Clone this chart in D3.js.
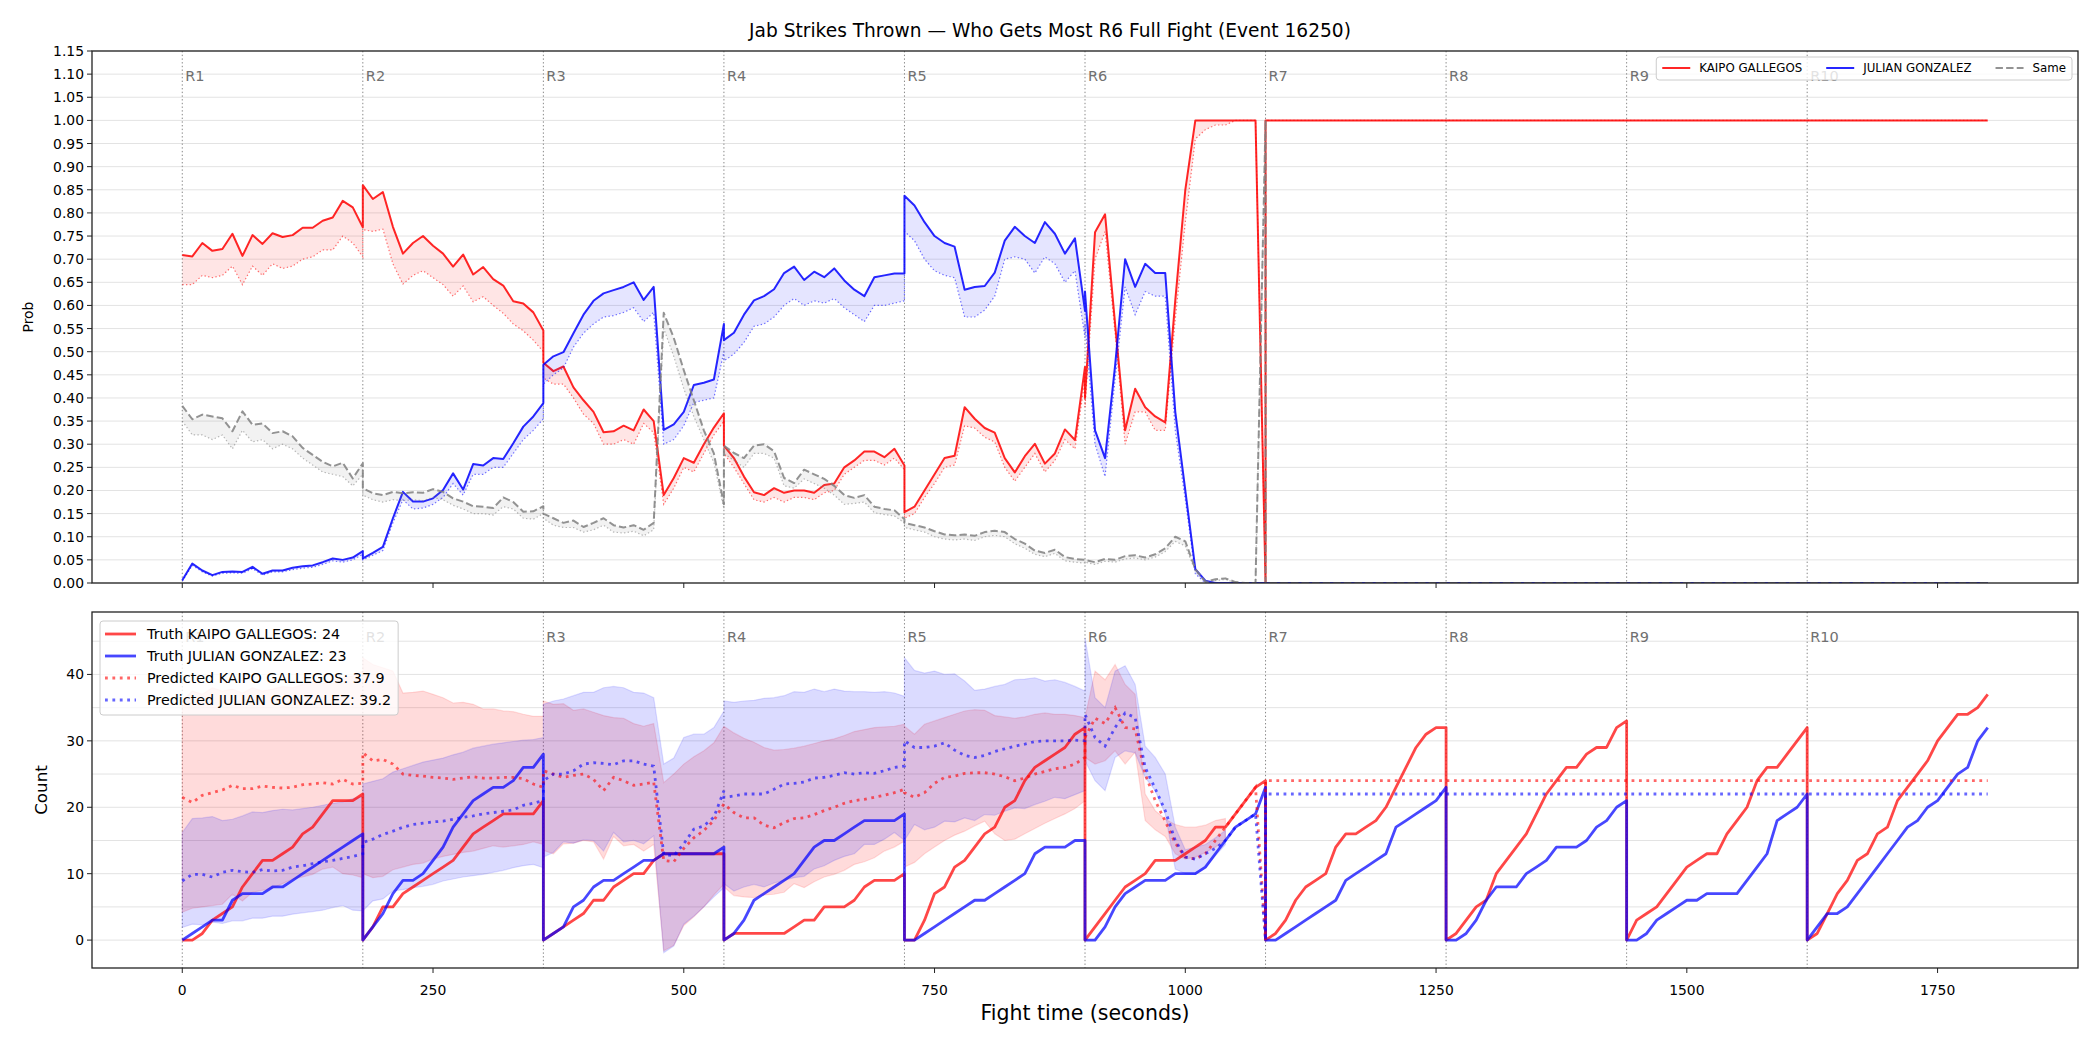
<!DOCTYPE html>
<html>
<head>
<meta charset="utf-8">
<script src="https://cdn.jsdelivr.net/npm/d3@7"></script>
<style>
  body { margin: 0; background: #fff; }
  text { font-family: "DejaVu Sans", sans-serif; }
</style>
</head>
<body>
<svg id="chart" width="2100" height="1050"></svg>
<script>
// ---- data (10 s samples, one row per round) ----
const STEP = 10, ROUND_LEN = 180;
const roundStarts = [0, 180, 360, 540, 720, 900, 1080, 1260, 1440, 1620];
const roundNames = ["R1", "R2", "R3", "R4", "R5", "R6", "R7", "R8", "R9", "R10"];
const xTicks = [0, 250, 500, 750, 1000, 1250, 1500, 1750];
const probTicks = d3.range(0, 24).map(i => i * 0.05);
const countTicks = [0, 10, 20, 30, 40];
const countGrid = [0, 5, 10, 15, 20, 25, 30, 35, 40, 45];
const tailT = [1080, 1800];

// top panel: win probability
const probRed = [
  [0.709,0.706,0.735,0.718,0.722,0.755,0.707,0.752,0.733,0.756,0.748,0.752,0.768,0.768,0.783,0.790,0.826,0.812,0.769],
  [0.860,0.830,0.845,0.770,0.712,0.735,0.750,0.729,0.712,0.684,0.710,0.667,0.683,0.657,0.643,0.609,0.604,0.585,0.546],
  [0.476,0.458,0.468,0.423,0.395,0.370,0.326,0.328,0.340,0.330,0.375,0.350,0.190,0.227,0.270,0.260,0.300,0.336,0.367],
  [0.297,0.270,0.230,0.196,0.190,0.205,0.195,0.200,0.200,0.195,0.212,0.215,0.250,0.265,0.284,0.284,0.272,0.290,0.254],
  [0.153,0.165,0.200,0.235,0.270,0.275,0.380,0.355,0.335,0.325,0.270,0.239,0.274,0.301,0.258,0.280,0.332,0.309,0.467],
  [0.400,0.758,0.797,0.560,0.330,0.420,0.380,0.360,0.347,0.611,0.850,1.000,1.000,1.000,1.000,1.000,1.000,1.000,0.000]
];
const probRedDot = [
  [0.645,0.645,0.665,0.660,0.665,0.685,0.645,0.685,0.665,0.690,0.680,0.685,0.700,0.705,0.720,0.720,0.750,0.735,0.705],
  [0.764,0.760,0.765,0.690,0.646,0.665,0.675,0.660,0.645,0.620,0.642,0.608,0.619,0.600,0.583,0.560,0.545,0.525,0.500],
  [0.443,0.430,0.430,0.400,0.365,0.345,0.300,0.300,0.310,0.300,0.345,0.325,0.170,0.205,0.250,0.240,0.280,0.320,0.350],
  [0.280,0.250,0.215,0.180,0.175,0.185,0.175,0.185,0.185,0.180,0.195,0.200,0.235,0.250,0.265,0.265,0.255,0.270,0.245],
  [0.140,0.150,0.185,0.215,0.250,0.255,0.340,0.335,0.315,0.305,0.250,0.220,0.250,0.280,0.240,0.265,0.310,0.290,0.440],
  [0.380,0.700,0.760,0.540,0.300,0.370,0.370,0.330,0.330,0.570,0.780,0.960,0.980,0.990,0.990,1.000,1.000,1.000,0.000]
];
const probBlue = [
  [0.006,0.042,0.027,0.017,0.024,0.025,0.024,0.035,0.020,0.027,0.027,0.033,0.036,0.038,0.045,0.053,0.050,0.055,0.069],
  [0.053,0.065,0.078,0.140,0.197,0.176,0.176,0.183,0.201,0.237,0.202,0.257,0.254,0.270,0.268,0.302,0.338,0.360,0.389],
  [0.472,0.490,0.499,0.540,0.580,0.610,0.626,0.633,0.640,0.650,0.612,0.640,0.331,0.343,0.370,0.428,0.433,0.440,0.560],
  [0.525,0.541,0.580,0.611,0.620,0.635,0.670,0.684,0.655,0.673,0.661,0.680,0.654,0.634,0.620,0.661,0.665,0.669,0.669],
  [0.837,0.816,0.780,0.750,0.735,0.727,0.634,0.640,0.642,0.671,0.740,0.770,0.750,0.735,0.780,0.755,0.712,0.745,0.588],
  [0.630,0.330,0.270,0.470,0.700,0.640,0.690,0.670,0.670,0.370,0.200,0.030,0.005,0,0,0,0,0,0]
];
const probBlueDot = [
  [0.004,0.038,0.024,0.015,0.021,0.022,0.021,0.031,0.017,0.024,0.024,0.029,0.032,0.034,0.040,0.048,0.045,0.050,0.062],
  [0.050,0.060,0.070,0.130,0.180,0.160,0.162,0.170,0.185,0.215,0.190,0.235,0.235,0.250,0.250,0.280,0.310,0.330,0.355],
  [0.430,0.450,0.465,0.510,0.540,0.560,0.575,0.578,0.585,0.595,0.565,0.585,0.300,0.310,0.340,0.390,0.395,0.400,0.500],
  [0.480,0.495,0.520,0.555,0.560,0.575,0.600,0.615,0.600,0.610,0.605,0.615,0.595,0.580,0.565,0.600,0.600,0.605,0.610],
  [0.760,0.740,0.700,0.675,0.665,0.660,0.575,0.575,0.590,0.620,0.700,0.705,0.700,0.670,0.705,0.690,0.650,0.675,0.530],
  [0.560,0.300,0.230,0.440,0.640,0.580,0.630,0.620,0.620,0.330,0.180,0.020,0,0,0,0,0,0,0]
];
const probSame = [
  [0.383,0.354,0.364,0.360,0.356,0.328,0.371,0.342,0.345,0.324,0.328,0.317,0.292,0.277,0.262,0.252,0.260,0.226,0.259],
  [0.205,0.194,0.190,0.197,0.194,0.196,0.195,0.203,0.197,0.183,0.176,0.166,0.165,0.162,0.185,0.175,0.154,0.155,0.166],
  [0.150,0.140,0.130,0.135,0.121,0.130,0.140,0.125,0.120,0.125,0.115,0.130,0.584,0.530,0.460,0.395,0.330,0.280,0.170],
  [0.297,0.281,0.270,0.297,0.300,0.285,0.227,0.216,0.245,0.235,0.225,0.210,0.190,0.184,0.190,0.165,0.160,0.157,0.138],
  [0.130,0.125,0.120,0.112,0.105,0.103,0.105,0.102,0.110,0.113,0.110,0.095,0.085,0.070,0.065,0.072,0.056,0.052,0.050],
  [0.050,0.045,0.052,0.050,0.058,0.060,0.055,0.062,0.075,0.100,0.090,0.030,0.003,0.008,0.010,0.002,0,0,1.000]
];
const probSameDot = [
  [0.350,0.320,0.320,0.310,0.320,0.290,0.330,0.305,0.310,0.290,0.300,0.290,0.270,0.255,0.240,0.235,0.230,0.210,0.235],
  [0.190,0.180,0.175,0.180,0.178,0.180,0.178,0.185,0.180,0.168,0.160,0.150,0.150,0.147,0.165,0.160,0.140,0.138,0.150],
  [0.140,0.125,0.120,0.120,0.110,0.115,0.125,0.110,0.108,0.112,0.102,0.115,0.550,0.490,0.420,0.360,0.310,0.260,0.160],
  [0.280,0.265,0.250,0.280,0.280,0.270,0.210,0.205,0.225,0.215,0.205,0.190,0.170,0.172,0.175,0.152,0.148,0.145,0.130],
  [0.120,0.115,0.110,0.100,0.095,0.093,0.095,0.092,0.100,0.103,0.100,0.085,0.075,0.062,0.057,0.064,0.048,0.045,0.043],
  [0.045,0.040,0.047,0.045,0.052,0.054,0.050,0.056,0.068,0.090,0.080,0.025,0.002,0.005,0.008,0,0,0,1.000]
];
const probRedTail = [1, 1], probBlueTail = [0, 0], probSameTail = [0, 0];

// bottom panel: cumulative counts
const truthRed = [
  [0,0,1,3,4,5,8,10,12,12,13,14,16,17,19,21,21,21,22],
  [0,2,5,5,7,8,9,10,11,12,14,16,17,18,19,19,19,19,21],
  [0,1,2,3,4,6,6,8,9,10,10,12,13,13,13,13,13,13,13],
  [0,1,1,1,1,1,1,2,3,3,5,5,5,6,8,9,9,9,10],
  [0,0,3,7,8,11,12,14,16,17,20,21,24,26,27,28,29,31,32],
  [0,2,4,6,8,9,10,12,12,12,13,14,15,17,17,19,21,23,24],
  [0,1,3,6,8,9,10,14,16,16,17,18,20,23,26,29,31,32,32],
  [0,1,3,5,6,10,12,14,16,19,22,24,26,26,28,29,29,32,33],
  [0,3,4,5,7,9,11,12,13,13,16,18,20,24,26,26,28,30,32],
  [0,1,4,7,9,12,13,16,17,21,23,25,27,30,32,34,34,35,37]
];
const truthBlue = [
  [0,1,2,3,3,6,7,7,7,8,8,9,10,11,12,13,14,15,16],
  [0,2,4,7,9,9,10,12,14,17,19,21,22,23,23,24,26,26,28],
  [0,1,2,5,6,8,9,9,10,11,12,12,13,13,13,13,13,13,14],
  [0,1,3,6,7,8,9,10,12,14,15,15,16,17,18,18,18,18,19],
  [0,0,1,2,3,4,5,6,6,7,8,9,10,13,14,14,14,15,15],
  [0,0,2,5,7,8,9,9,9,10,10,10,11,13,15,17,18,19,23],
  [0,0,1,2,3,4,5,6,9,10,11,12,13,17,18,19,20,21,23],
  [0,0,1,3,6,8,8,8,10,11,12,14,14,14,15,17,18,20,21],
  [0,0,1,3,4,5,6,6,7,7,7,7,9,11,13,18,19,20,22],
  [0,2,4,4,5,7,9,11,13,15,17,18,20,21,23,25,26,30,32]
];
const predRed = [
  [21.5,20.7,21.8,22.2,22.6,23.3,22.8,22.8,23.2,23.0,22.9,23.0,23.4,23.5,23.7,23.5,24.2,23.5,23.6],
  [28.2,27.0,27.2,26.5,25.0,24.8,24.7,24.5,24.4,24.2,24.4,24.6,24.4,24.4,24.5,24.5,24.3,23.5,23.0],
  [25.5,25.0,24.5,24.8,25.0,24.2,22.5,24.5,24.0,23.3,23.5,23.8,12.0,11.8,13.8,15.4,16.5,18.0,20.5],
  [20.5,19.2,18.4,18.4,17.3,16.9,17.7,18.3,18.4,18.9,19.5,20.0,20.6,21.0,21.2,21.5,21.8,22.2,22.7],
  [22.2,21.5,22.2,23.6,24.5,24.7,25.1,25.2,25.2,25.0,24.6,24.0,24.4,25.0,25.4,25.8,26.0,26.5,27.5],
  [30.5,33.4,32.6,35.0,32.0,31.8,25.0,21.0,17.9,14.6,12.5,12.2,13.0,15.0,17.0,19.0,21.0,23.0,0]
];
const predBlue = [
  [8.9,9.9,9.9,9.5,10.2,10.5,10.3,10.2,10.6,10.4,10.5,11.0,11.2,11.5,11.8,12.0,12.3,12.6,13.0],
  [14.7,15.2,15.9,16.4,17.0,17.4,17.6,17.8,17.9,18.2,18.5,18.7,19.0,19.2,19.4,19.6,20.3,20.6,21.0],
  [24.0,25.0,25.0,25.5,26.5,26.7,26.6,26.4,27.0,27.0,26.5,26.2,12.9,12.7,14.5,16.7,17.2,18.5,22.5],
  [21.5,21.7,22.0,22.0,22.0,22.7,23.5,23.6,23.8,24.4,24.5,24.8,25.2,25.0,25.2,25.1,25.5,26.0,26.2],
  [30.0,29.0,29.0,29.2,29.7,28.6,27.8,27.5,27.8,28.4,28.8,29.2,29.5,29.9,30.0,30.0,30.0,30.1,30.0],
  [34.0,30.5,29.2,32.0,34.2,33.5,26.0,22.8,19.5,15.0,12.5,12.2,13.0,13.8,15.0,17.0,18.0,19.0,0]
];
const predRedTail = [24, 24], predBlueTail = [22, 22];
const bandRedHi = [
  [36.0,37.5,37.0,38.0,37.5,37.8,37.2,38.0,37.5,37.8,38.2,38.0,38.5,39.0,38.6,39.2,39.5,39.8,40.5],
  [42.5,41.5,41.0,40.5,37.2,37.3,37.5,37.0,36.5,35.7,35.8,35.5,34.8,34.8,34.5,34.4,34.0,33.7,33.7],
  [36.0,35.5,35.6,34.6,34.8,34.3,33.8,33.5,33.4,32.6,32.2,32.6,23.7,25.0,26.5,27.6,28.5,29.7,32.2],
  [32.2,31.2,30.4,29.8,29.0,28.6,28.7,28.9,29.2,29.6,30.0,30.3,30.8,31.4,31.7,32.0,32.1,32.2,32.5],
  [32.2,31.0,32.5,33.0,33.5,34.0,34.5,34.7,34.6,33.8,33.6,33.4,33.6,34.0,34.2,34.0,34.0,33.8,33.5],
  [33.5,40.5,39.2,41.5,38.5,37.0,22.0,19.5,18.2,17.4,17.0,17.0,17.3,18.0,18.3]
];
const bandRedLo = [
  [4.2,4.8,5.0,5.2,5.4,6.9,5.9,7.2,7.5,7.8,8.5,9.2,9.5,9.9,10.7,11.0,10.0,9.8,9.4],
  [10.0,9.4,9.6,10.6,11.0,11.4,11.6,12.2,12.6,12.9,13.2,13.4,13.8,14.2,14.0,14.2,14.4,14.8,14.4],
  [13.5,13.0,14.5,14.6,15.0,14.8,12.2,15.6,14.2,14.4,13.4,14.4,-1.6,-0.8,2.2,3.5,5.0,6.8,8.4],
  [8.0,6.7,6.5,6.4,6.8,6.9,7.2,8.5,7.9,8.8,9.5,9.9,10.5,11.4,11.8,12.4,13.4,14.0,14.9],
  [11.0,11.7,13.0,14.0,15.0,15.8,16.4,17.2,17.9,16.0,15.0,15.2,16.0,16.8,17.6,18.3,19.0,19.8,21.0],
  [27.5,26.5,27.0,28.5,26.5,28.3,18.0,16.6,15.6,13.0,12.2,12.5,13.2,14.0,15.0]
];
const bandBlueHi = [
  [16.2,18.3,18.4,18.6,18.0,18.2,18.7,19.3,19.2,19.5,19.7,19.6,19.8,20.0,20.3,20.6,20.8,21.3,21.6],
  [23.5,23.9,24.3,25.3,25.8,26.3,26.8,27.1,27.4,27.9,28.3,28.9,29.2,29.5,29.7,29.9,30.1,30.2,30.5],
  [35.5,36.0,36.3,36.8,37.3,37.3,38.0,38.2,38.0,37.3,37.2,36.5,26.5,27.4,30.5,31.0,31.0,32.0,34.5],
  [36.0,35.8,36.0,36.1,36.4,36.5,36.8,37.4,37.3,37.8,37.4,37.8,37.5,37.4,37.4,37.3,37.4,37.2,36.7],
  [42.5,40.6,40.2,40.5,40.0,40.1,39.0,37.6,37.8,38.2,38.5,39.2,39.3,39.5,39.0,39.2,38.8,38.2,37.5],
  [45.5,36.5,35.0,40.5,41.3,38.5,29.2,27.5,25.0,17.0,13.6,14.0,14.4,15.4,16.5]
];
const bandBlueLo = [
  [1.9,2.4,2.3,2.7,2.5,2.9,2.9,3.3,3.3,3.6,3.6,3.9,4.1,4.3,4.5,4.9,5.2,4.5,4.4],
  [4.4,5.9,6.2,7.4,7.6,7.9,8.1,8.4,8.9,9.2,9.5,9.7,9.9,10.2,10.5,10.9,11.2,11.4,10.9],
  [12.5,13.2,14.8,14.6,15.1,15.0,13.4,16.2,14.8,15.0,14.5,15.7,-1.9,-0.9,2.4,3.6,5.0,6.5,7.9],
  [8.5,7.4,8.0,8.4,8.0,8.6,9.0,9.4,9.6,10.7,11.2,12.0,12.6,13.0,14.4,14.4,15.2,16.2,15.0],
  [15.0,17.4,16.6,17.0,17.9,17.8,18.4,18.0,18.9,18.8,19.4,19.9,19.8,20.4,20.9,21.5,21.3,21.9,22.5],
  [27.0,24.0,22.5,27.5,28.5,28.2,24.5,22.5,19.0,10.7,10.0,9.9,10.8,12.7,14.4]
];

// ---- helpers ----
function byRound(rows) {
  const pts = [];
  rows.forEach((vals, r) => vals.forEach((v, i) => pts.push([ROUND_LEN * r + STEP * i, v])));
  return pts;
}
function withTail(rows, tail) {
  return byRound(rows).concat(tailT.map((t, i) => [t, tail[i]]));
}
function zip2(a, b) { return a.map((p, i) => [p[0], p[1], b[i][1]]); }

// ---- layout ----
const svg = d3.select("#chart");
const L = 92, R = 2078;
const P1 = { top: 51, bottom: 583 }, P2 = { top: 612, bottom: 968 };
const x = d3.scaleLinear().domain([-90, 1890]).range([L, R]);
const yP = d3.scaleLinear().domain([0, 1.15]).range([P1.bottom, P1.top]);
const yC = d3.scaleLinear().domain([-4.2, 49.4]).range([P2.bottom, P2.top]);

const RED = "#ff0000", BLUE = "#0000ff", GRAY = "#808080";

const defs = svg.append("defs");
defs.append("clipPath").attr("id", "clipTop").append("rect")
  .attr("x", L).attr("y", P1.top).attr("width", R - L).attr("height", P1.bottom - P1.top);
defs.append("clipPath").attr("id", "clipBot").append("rect")
  .attr("x", L).attr("y", P2.top).attr("width", R - L).attr("height", P2.bottom - P2.top);

// title (centred on the figure)
svg.append("text").attr("x", 1050).attr("y", 37).attr("text-anchor", "middle")
  .attr("font-size", 18.6).text("Jab Strikes Thrown \u2014 Who Gets Most R6 Full Fight (Event 16250)");

function panelFrame(y, P, gridVals, clipId) {
  const g = svg.append("g");
  g.selectAll(".grid").data(gridVals).enter().append("line")
    .attr("x1", L).attr("x2", R).attr("y1", d => y(d)).attr("y2", d => y(d))
    .attr("stroke", "#e3e3e3").attr("stroke-width", 1);
  const rl = g.append("g").attr("clip-path", `url(#${clipId})`);
  rl.selectAll("line").data(roundStarts).enter().append("line")
    .attr("x1", d => x(d)).attr("x2", d => x(d)).attr("y1", P.top).attr("y2", P.bottom)
    .attr("stroke", "#888").attr("stroke-width", 1).attr("stroke-dasharray", "1.4,2.3");
  return g;
}
function roundLabels(P) {
  svg.append("g").selectAll("text").data(roundStarts).enter().append("text")
    .attr("x", d => x(d) + 3).attr("y", P.top + 30)
    .attr("font-size", 14.5).attr("fill", "#707070").text((d, i) => roundNames[i]);
}
function frame(P) {
  svg.append("rect").attr("x", L).attr("y", P.top).attr("width", R - L).attr("height", P.bottom - P.top)
    .attr("fill", "none").attr("stroke", "#222").attr("stroke-width", 1.3);
}

// ---- top panel ----
panelFrame(yP, P1, probTicks, "clipTop");
roundLabels(P1);
const gTop = svg.append("g").attr("clip-path", "url(#clipTop)");
const lineP = d3.line().x(d => x(d[0])).y(d => yP(d[1]));
const areaP = d3.area().x(d => x(d[0])).y0(d => yP(d[1])).y1(d => yP(d[2]));

const topSeries = [
  { solid: withTail(probRed, probRedTail), dot: withTail(probRedDot, probRedTail), color: RED, dash: null },
  { solid: withTail(probBlue, probBlueTail), dot: withTail(probBlueDot, probBlueTail), color: BLUE, dash: null },
  { solid: withTail(probSame, probSameTail), dot: withTail(probSameDot, probSameTail), color: GRAY, dash: "7.4,3.2" }
];
topSeries.forEach(s => {
  gTop.append("path").attr("d", areaP(zip2(s.solid, s.dot)))
    .attr("fill", s.color).attr("fill-opacity", 0.1).attr("stroke", "none");
  gTop.append("path").attr("d", lineP(s.solid)).attr("fill", "none")
    .attr("stroke", s.color).attr("stroke-opacity", 0.85).attr("stroke-width", 2)
    .attr("stroke-dasharray", s.dash).attr("stroke-linejoin", "round");
  gTop.append("path").attr("d", lineP(s.dot)).attr("fill", "none")
    .attr("stroke", s.color).attr("stroke-opacity", 0.55).attr("stroke-width", 1.2)
    .attr("stroke-dasharray", "1.4,2.3");
});
frame(P1);

// top axes
const axTop = svg.append("g");
axTop.selectAll(".yt").data(probTicks).enter().append("line")
  .attr("x1", L - 5).attr("x2", L).attr("y1", d => yP(d)).attr("y2", d => yP(d)).attr("stroke", "#222");
axTop.selectAll(".yl").data(probTicks).enter().append("text")
  .attr("x", L - 8).attr("y", d => yP(d)).attr("dy", "0.36em").attr("text-anchor", "end")
  .attr("font-size", 13.9).text(d => d3.format(".2f")(d));
axTop.selectAll(".xt").data(xTicks).enter().append("line")
  .attr("x1", d => x(d)).attr("x2", d => x(d)).attr("y1", P1.bottom).attr("y2", P1.bottom + 5).attr("stroke", "#222");
svg.append("text").attr("transform", `translate(33,${(P1.top + P1.bottom) / 2}) rotate(-90)`)
  .attr("text-anchor", "middle").attr("font-size", 13.9).text("Prob");

// top legend
(function () {
  const items = [
    { label: "KAIPO GALLEGOS", color: RED, dash: null },
    { label: "JULIAN GONZALEZ", color: BLUE, dash: null },
    { label: "Same", color: GRAY, dash: "7.4,3.2" }
  ];
  const g = svg.append("g");
  const box = g.append("rect");
  const fs = 11.8, handle = 28, gapT = 9, gapC = 24, padX = 6;
  const cy = 68;
  const parts = items.map(it => {
    const t = g.append("text").attr("font-size", fs).attr("y", cy + 4.2).text(it.label);
    return { it, t, w: t.node().getComputedTextLength() };
  });
  const total = parts.reduce((a, p) => a + handle + gapT + p.w, 0) + gapC * (parts.length - 1) + 2 * padX;
  const x0 = 2072 - total;
  box.attr("x", x0).attr("y", 57).attr("width", total).attr("height", 23).attr("rx", 3)
    .attr("fill", "#fff").attr("fill-opacity", 0.8).attr("stroke", "#cccccc");
  let cx = x0 + padX;
  parts.forEach(p => {
    g.append("line").attr("x1", cx).attr("x2", cx + handle).attr("y1", cy).attr("y2", cy)
      .attr("stroke", p.it.color).attr("stroke-opacity", 0.85).attr("stroke-width", 2)
      .attr("stroke-dasharray", p.it.dash);
    p.t.attr("x", cx + handle + gapT).raise();
    cx += handle + gapT + p.w + gapC;
  });
})();

// ---- bottom panel ----
panelFrame(yC, P2, countGrid, "clipBot");
roundLabels(P2);
const gBot = svg.append("g").attr("clip-path", "url(#clipBot)");
const lineC = d3.line().x(d => x(d[0])).y(d => yC(d[1]));
const areaC = d3.area().x(d => x(d[0])).y0(d => yC(d[1])).y1(d => yC(d[2]));

[[bandRedLo, bandRedHi, RED], [bandBlueLo, bandBlueHi, BLUE]].forEach(([lo, hi, c]) => {
  gBot.append("path").attr("d", areaC(zip2(byRound(lo), byRound(hi))))
    .attr("fill", c).attr("fill-opacity", 0.14)
    .attr("stroke", c).attr("stroke-opacity", 0.12).attr("stroke-width", 1.2);
});
gBot.append("path").attr("d", lineC(byRound(truthRed))).attr("fill", "none")
  .attr("stroke", RED).attr("stroke-opacity", 0.72).attr("stroke-width", 2.8).attr("stroke-linejoin", "round");
gBot.append("path").attr("d", lineC(byRound(truthBlue))).attr("fill", "none")
  .attr("stroke", BLUE).attr("stroke-opacity", 0.72).attr("stroke-width", 2.8).attr("stroke-linejoin", "round");
gBot.append("path").attr("d", lineC(withTail(predRed, predRedTail))).attr("fill", "none")
  .attr("stroke", RED).attr("stroke-opacity", 0.6).attr("stroke-width", 2.8).attr("stroke-dasharray", "2.8,4.6");
gBot.append("path").attr("d", lineC(withTail(predBlue, predBlueTail))).attr("fill", "none")
  .attr("stroke", BLUE).attr("stroke-opacity", 0.6).attr("stroke-width", 2.8).attr("stroke-dasharray", "2.8,4.6");
frame(P2);

// bottom axes
const axBot = svg.append("g");
axBot.selectAll(".yt").data(countTicks).enter().append("line")
  .attr("x1", L - 5).attr("x2", L).attr("y1", d => yC(d)).attr("y2", d => yC(d)).attr("stroke", "#222");
axBot.selectAll(".yl").data(countTicks).enter().append("text")
  .attr("x", L - 8).attr("y", d => yC(d)).attr("dy", "0.36em").attr("text-anchor", "end")
  .attr("font-size", 13.9).text(d => d);
axBot.selectAll(".xt").data(xTicks).enter().append("line")
  .attr("x1", d => x(d)).attr("x2", d => x(d)).attr("y1", P2.bottom).attr("y2", P2.bottom + 5).attr("stroke", "#222");
axBot.selectAll(".xl").data(xTicks).enter().append("text")
  .attr("x", d => x(d)).attr("y", 995).attr("text-anchor", "middle")
  .attr("font-size", 13.9).text(d => d);
svg.append("text").attr("x", (L + R) / 2).attr("y", 1020).attr("text-anchor", "middle")
  .attr("font-size", 20.5).text("Fight time (seconds)");
svg.append("text").attr("transform", `translate(47,${(P2.top + P2.bottom) / 2}) rotate(-90)`)
  .attr("text-anchor", "middle").attr("font-size", 16.7).text("Count");

// bottom legend (drawn over the R1/R2 labels, as in the original)
(function () {
  const items = [
    { label: "Truth KAIPO GALLEGOS: 24", color: RED, dash: null, op: 0.72 },
    { label: "Truth JULIAN GONZALEZ: 23", color: BLUE, dash: null, op: 0.72 },
    { label: "Predicted KAIPO GALLEGOS: 37.9", color: RED, dash: "2.8,4.6", op: 0.6 },
    { label: "Predicted JULIAN GONZALEZ: 39.2", color: BLUE, dash: "2.8,4.6", op: 0.6 }
  ];
  const g = svg.append("g");
  const box = g.append("rect");
  const rows = [634, 656, 678, 700];
  let maxW = 0;
  items.forEach((it, i) => {
    g.append("line").attr("x1", 105).attr("x2", 136).attr("y1", rows[i]).attr("y2", rows[i])
      .attr("stroke", it.color).attr("stroke-opacity", it.op).attr("stroke-width", 2.8)
      .attr("stroke-dasharray", it.dash);
    const t = g.append("text").attr("x", 147).attr("y", rows[i] + 5.2).attr("font-size", 14.3).text(it.label);
    maxW = Math.max(maxW, t.node().getComputedTextLength());
  });
  box.attr("x", 100).attr("y", 621).attr("width", 147 + maxW + 7 - 100).attr("height", 94).attr("rx", 3)
    .attr("fill", "#fff").attr("fill-opacity", 0.8).attr("stroke", "#cccccc");
})();
</script>
</body>
</html>
